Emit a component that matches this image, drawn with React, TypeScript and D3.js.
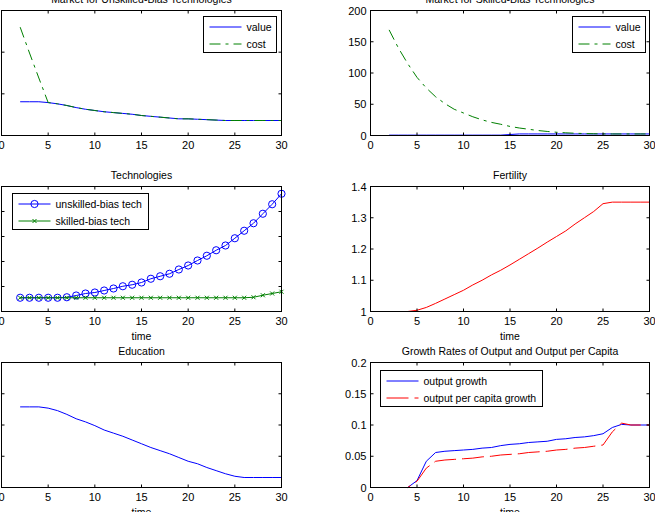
import * as d3 from "d3";
import React from "react";

// time steps of the simulation
const time = [2, 3, 4, 5, 6, 7, 8, 9, 10, 11, 12, 13, 14, 15, 16, 17, 18, 19, 20, 21, 22, 23, 24, 25, 26, 27, 28, 29, 30];

const unskilledValue = [0.81, 0.81, 0.81, 0.79, 0.76, 0.72, 0.67, 0.63, 0.6, 0.57, 0.55, 0.53, 0.51, 0.48, 0.46, 0.44, 0.42, 0.4, 0.4, 0.39, 0.38, 0.37, 0.36, 0.36, 0.36, 0.36, 0.36, 0.36, 0.36];
const unskilledCost = [2.6, 1.98, 1.38, 0.79, 0.76, 0.72, 0.67, 0.63, 0.6, 0.57, 0.55, 0.53, 0.51, 0.48, 0.46, 0.44, 0.42, 0.4, 0.4, 0.39, 0.38, 0.37, 0.36, 0.36, 0.36, 0.36, 0.36, 0.36, 0.36];

const skilledValue = [0.6, 0.6, 0.6, 0.6, 0.6, 0.6, 0.6, 0.6, 0.6, 0.6, 0.6, 0.6, 0.6, 1.6, 2.5, 2.5, 2.5, 2.5, 2.5, 2.5, 2.5, 2.5, 2.5, 2.5, 2.5, 2.5, 2.5, 2.5, 2.5];
const skilledCost = [169, 140, 115, 93, 76, 62, 51, 42, 36, 30, 25, 21, 18, 14.5, 12, 10, 8, 6.5, 5.2, 4.3, 3.6, 3.1, 2.8, 2.6, 2.5, 2.5, 2.5, 2.5, 2.5];

const unskilledTech = [0.55, 0.55, 0.55, 0.55, 0.55, 0.57, 0.64, 0.72, 0.76, 0.84, 0.92, 1.01, 1.07, 1.16, 1.31, 1.41, 1.51, 1.68, 1.84, 2.04, 2.23, 2.45, 2.64, 2.93, 3.23, 3.53, 3.91, 4.29, 4.71];
const skilledTech = [0.55, 0.55, 0.55, 0.55, 0.55, 0.55, 0.55, 0.55, 0.55, 0.55, 0.55, 0.55, 0.55, 0.55, 0.55, 0.55, 0.55, 0.55, 0.55, 0.55, 0.55, 0.55, 0.55, 0.55, 0.55, 0.57, 0.65, 0.72, 0.79];

const fertility = [1.0, 1.0, 1.0, 1.004, 1.013, 1.026, 1.04, 1.054, 1.068, 1.085, 1.1, 1.117, 1.132, 1.149, 1.167, 1.185, 1.203, 1.222, 1.24, 1.258, 1.28, 1.3, 1.32, 1.345, 1.35, 1.35, 1.35, 1.35, 1.35];

const education = [1.29, 1.29, 1.29, 1.27, 1.23, 1.17, 1.1, 1.05, 0.99, 0.92, 0.87, 0.82, 0.76, 0.7, 0.64, 0.59, 0.54, 0.48, 0.42, 0.38, 0.32, 0.27, 0.22, 0.18, 0.16, 0.16, 0.16, 0.16, 0.16];

const outputGrowth = [0, 0, 0, 0.011, 0.042, 0.056, 0.058, 0.059, 0.06, 0.061, 0.063, 0.064, 0.067, 0.069, 0.07, 0.072, 0.073, 0.074, 0.077, 0.078, 0.08, 0.081, 0.083, 0.086, 0.096, 0.101, 0.1, 0.1, 0.1];
const perCapitaGrowth = [0, 0, 0, 0.01, 0.031, 0.042, 0.044, 0.045, 0.046, 0.047, 0.049, 0.05, 0.052, 0.053, 0.054, 0.056, 0.057, 0.058, 0.06, 0.061, 0.063, 0.064, 0.066, 0.068, 0.089, 0.103, 0.1, 0.1, 0.1];

const xTicks = [0, 5, 10, 15, 20, 25, 30];

const BLUE = "#0000ff";
const GREEN = "#008000";
const RED = "#ff0000";
const FONT = "'Liberation Sans', Arial, sans-serif";

type Series = {
  values: number[];
  color: string;
  label?: string;
  dash?: string;
  marker?: "o" | "x";
};

type LegendBox = { x: number; y: number; w: number };

type PanelProps = {
  left: number;
  top: number;
  width: number;
  height: number;
  yDomain: [number, number];
  yTicks: number[];
  title: string;
  xlabel?: string;
  series: Series[];
  legend?: LegendBox;
};

const Marker: React.FC<{ kind: "o" | "x"; cx: number; cy: number; color: string }> = ({ kind, cx, cy, color }) =>
  kind === "o" ? (
    <circle cx={cx} cy={cy} r={3.6} fill="none" stroke={color} strokeWidth={1} />
  ) : (
    <path
      d={`M${cx - 2},${cy - 2}L${cx + 2},${cy + 2}M${cx - 2},${cy + 2}L${cx + 2},${cy - 2}`}
      stroke={color}
      strokeWidth={1}
    />
  );

const Panel: React.FC<PanelProps> = ({ left, top, width, height, yDomain, yTicks, title, xlabel, series, legend }) => {
  const x = d3.scaleLinear().domain([0, 30]).range([left, left + width]);
  const y = d3.scaleLinear().domain(yDomain).range([top + height, top]);
  const line = d3
    .line<number>()
    .x((_, i) => x(time[i]))
    .y((d) => y(d));
  const bottom = top + height;
  const tickLen = 3;

  return (
    <g fontFamily={FONT}>
      {/* data */}
      {series.map((s, k) => (
        <g key={k}>
          <path d={line(s.values) || ""} fill="none" stroke={s.color} strokeWidth={1} strokeDasharray={s.dash} />
          {s.marker &&
            s.values.map((v, i) => <Marker key={i} kind={s.marker!} cx={x(time[i])} cy={y(v)} color={s.color} />)}
        </g>
      ))}

      {/* axes box with inward ticks */}
      <rect x={left} y={top} width={width} height={height} fill="none" stroke="#000" strokeWidth={1} />
      {xTicks.map((t) => (
        <g key={`x${t}`}>
          <line x1={x(t)} x2={x(t)} y1={bottom} y2={bottom - tickLen} stroke="#000" />
          <line x1={x(t)} x2={x(t)} y1={top} y2={top + tickLen} stroke="#000" />
          <text x={x(t)} y={bottom + 13.5} fontSize={11} textAnchor="middle" fill="#000">
            {t}
          </text>
        </g>
      ))}
      {yTicks.map((t) => (
        <g key={`y${t}`}>
          <line x1={left} x2={left + tickLen} y1={y(t)} y2={y(t)} stroke="#000" />
          <line x1={left + width} x2={left + width - tickLen} y1={y(t)} y2={y(t)} stroke="#000" />
          <text x={left - 4} y={y(t) + 4} fontSize={11} textAnchor="end" fill="#000">
            {String(t)}
          </text>
        </g>
      ))}

      <text x={left + width / 2} y={top - 8} fontSize={10.5} textAnchor="middle" fill="#000">
        {title}
      </text>
      {xlabel && (
        <text x={left + width / 2} y={bottom + 28} fontSize={10.5} textAnchor="middle" fill="#000">
          {xlabel}
        </text>
      )}

      {legend && (
        <g>
          <rect x={legend.x} y={legend.y} width={legend.w} height={36} fill="#fff" stroke="#000" strokeWidth={1} />
          {series
            .filter((s) => s.label)
            .map((s, i) => {
              const cy = legend.y + 10.5 + 17 * i;
              const x0 = legend.x + 6;
              const x1 = legend.x + 38;
              return (
                <g key={i}>
                  <line x1={x0} x2={x1} y1={cy} y2={cy} stroke={s.color} strokeDasharray={s.dash} />
                  {s.marker && <Marker kind={s.marker} cx={(x0 + x1) / 2} cy={cy} color={s.color} />}
                  <text x={legend.x + 43} y={cy + 3.8} fontSize={10.5} fill="#000">
                    {s.label}
                  </text>
                </g>
              );
            })}
        </g>
      )}
    </g>
  );
};

const LEFT = 1.5;
const RIGHT = 370.5;
const LW = 280;
const RW = 279;
const H = 125;
const ROWS = [10.5, 186.5, 362.5];

export default function App() {
  return (
    <div style={{ position: "absolute", left: 0, top: 0 }}>
      <svg width={655} height={512} style={{ display: "block", background: "#fff" }}>
        <Panel
          left={LEFT}
          top={ROWS[0]}
          width={LW}
          height={H}
          yDomain={[0, 3]}
          yTicks={[0, 1, 2, 3]}
          title="Market for Unskilled-Bias Technologies"
          series={[
            { values: unskilledValue, color: BLUE, label: "value" },
            { values: unskilledCost, color: GREEN, label: "cost", dash: "11,5,3,5" },
          ]}
          legend={{ x: 203.5, y: 16.5, w: 73 }}
        />
        <Panel
          left={RIGHT}
          top={ROWS[0]}
          width={RW}
          height={H}
          yDomain={[0, 200]}
          yTicks={[0, 50, 100, 150, 200]}
          title="Market for Skilled-Bias Technologies"
          series={[
            { values: skilledValue, color: BLUE, label: "value" },
            { values: skilledCost, color: GREEN, label: "cost", dash: "11,5,3,5" },
          ]}
          legend={{ x: 572.5, y: 16.5, w: 73 }}
        />
        <Panel
          left={LEFT}
          top={ROWS[1]}
          width={LW}
          height={H}
          yDomain={[0, 5]}
          yTicks={[0, 1, 2, 3, 4, 5]}
          title="Technologies"
          xlabel="time"
          series={[
            { values: unskilledTech, color: BLUE, label: "unskilled-bias tech", marker: "o" },
            { values: skilledTech, color: GREEN, label: "skilled-bias tech", marker: "x" },
          ]}
          legend={{ x: 12.5, y: 193.5, w: 136 }}
        />
        <Panel
          left={RIGHT}
          top={ROWS[1]}
          width={RW}
          height={H}
          yDomain={[1, 1.4]}
          yTicks={[1, 1.1, 1.2, 1.3, 1.4]}
          title="Fertility"
          xlabel="time"
          series={[{ values: fertility, color: RED }]}
        />
        <Panel
          left={LEFT}
          top={ROWS[2]}
          width={LW}
          height={H}
          yDomain={[0, 2]}
          yTicks={[0, 0.5, 1, 1.5, 2]}
          title="Education"
          xlabel="time"
          series={[{ values: education, color: BLUE }]}
        />
        <Panel
          left={RIGHT}
          top={ROWS[2]}
          width={RW}
          height={H}
          yDomain={[0, 0.2]}
          yTicks={[0, 0.05, 0.1, 0.15, 0.2]}
          title="Growth Rates of Output and Output per Capita"
          xlabel="time"
          series={[
            { values: outputGrowth, color: BLUE, label: "output growth" },
            { values: perCapitaGrowth, color: RED, label: "output per capita growth", dash: "22,6" },
          ]}
          legend={{ x: 380.5, y: 370.5, w: 162 }}
        />
      </svg>
    </div>
  );
}
